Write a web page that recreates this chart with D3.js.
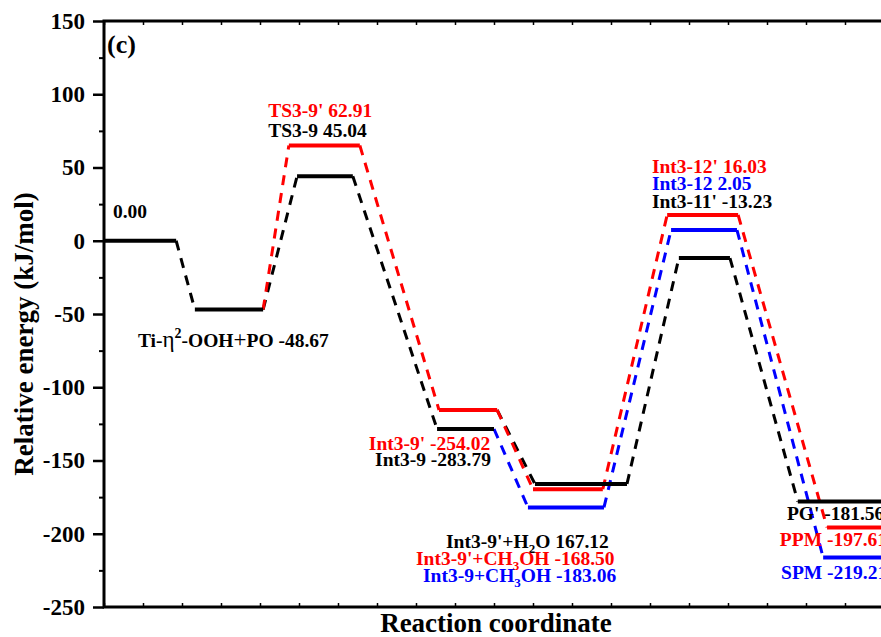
<!DOCTYPE html>
<html>
<head>
<meta charset="utf-8">
<script src="https://cdn.jsdelivr.net/npm/d3@7.9.0/dist/d3.min.js"></script>
<style>
  body { margin: 0; background: #fff; }
</style>
</head>
<body>
<svg id="chart" width="881" height="637"></svg>
<script>
// energy levels (reaction coordinate units for x, kJ/mol for y as drawn)
const levelIds = ['R', 'Ti', 'TS3-9p', 'TS3-9', 'Int3-9p', 'Int3-9', 'H2O', 'MeOHp', 'MeOH', 'Int3-12p', 'Int3-12', 'Int3-11p', 'PGp', 'PPM', 'SPM'];
const levelSeries = ['k', 'k', 'r', 'k', 'r', 'k', 'k', 'r', 'b', 'r', 'b', 'k', 'k', 'r', 'b'];
const levelEnergy = [0, -47, 65, 44, -115.5, -128.5, -166, -169.6, -182, 17.6, 7.3, -11.8, -178, -195.7, -216.2];
const levelStart = [0, 2.33, 4.74, 4.95, 8.59, 8.54, 11.05, 11.0, 10.87, 14.44, 14.54, 14.74, 17.79, 18.54, 18.44];
const levelEnd = [1.85, 4.08, 6.56, 6.38, 10.08, 10.0, 13.41, 12.79, 12.82, 16.26, 16.23, 16.05, 21, 21, 21];

// dashed connectors: [from, to, series]
const links = [
  ['R', 'Ti', 'k'], ['Ti', 'TS3-9', 'k'], ['TS3-9', 'Int3-9', 'k'], ['Int3-9p', 'H2O', 'k'],
  ['H2O', 'Int3-11p', 'k'], ['Int3-11p', 'PGp', 'k'],
  ['Ti', 'TS3-9p', 'r'], ['TS3-9p', 'Int3-9p', 'r'], ['Int3-9p', 'MeOHp', 'r'],
  ['MeOHp', 'Int3-12p', 'r'], ['Int3-12p', 'PPM', 'r'],
  ['Int3-9', 'MeOH', 'b'], ['MeOH', 'Int3-12', 'b'], ['Int3-12', 'SPM', 'b']
];

// labels: parts as [text, kind] where kind '' normal, 'sub', 'sup', 'plain'
const labelParts = [
  [['0.00', '']],
  [['Ti-', ''], ['η', 'plain'], ['2', 'sup'], ['-OOH', ''], ['+', 'plain'], ['PO -48.67', '']],
  [["TS3-9' 62.91", '']],
  [['TS3-9 45.04', '']],
  [["Int3-9' -254.02", '']],
  [['Int3-9 -283.79', '']],
  [["Int3-9'+H", ''], ['2', 'sub'], ['O 167.12', '']],
  [["Int3-9'+CH", ''], ['3', 'sub'], ['OH -168.50', '']],
  [['Int3-9+CH', ''], ['3', 'sub'], ['OH -183.06', '']],
  [["Int3-12' 16.03", '']],
  [['Int3-12 2.05', '']],
  [["Int3-11' -13.23", '']],
  [["PG' -181.56", '']],
  [['PPM -197.61', '']],
  [['SPM -219.21', '']]
];
const labelSeries = ['k', 'k', 'r', 'k', 'r', 'k', 'k', 'r', 'b', 'r', 'b', 'k', 'k', 'r', 'b'];
const labelX = [0.23, 0.87, 4.21, 4.21, 6.79, 6.95, 8.77, 8.0, 8.18, 14.05, 14.05, 14.05, 17.51, 17.33, 17.36];
const labelY = [15.5, -72.5, 84.5, 70.8, -142.8, -153.8, -209.7, -221.4, -233, 46.2, 34.6, 22.4, -190.6, -208.4, -230.9];

const yTicks = [150, 100, 50, 0, -50, -100, -150, -200, -250];
const colorOf = { k: '#000000', r: '#ff0000', b: '#0000ff' };
const serif = '"Liberation Serif"';

const svg = d3.select('#chart');
const x = d3.scaleLinear().domain([0, 20.5]).range([104, 903.5]);
const y = d3.scaleLinear().domain([-250, 150]).range([607, 21]);

const levels = levelIds.map((id, i) => ({
  id, s: levelSeries[i], e: levelEnergy[i], x0: levelStart[i], x1: levelEnd[i]
}));
const byId = new Map(levels.map((d) => [d.id, d]));

// axes
const yAxis = d3.axisLeft(y).tickValues(yTicks).tickSize(11).tickPadding(8)
  .tickFormat((d) => String(d));
const gy = svg.append('g').attr('transform', 'translate(104,0)').call(yAxis);
gy.attr('font-family', null).attr('font-size', null);
gy.selectAll('text')
  .attr('fill', '#000')
  .style('font-family', serif)
  .style('font-weight', 'bold')
  .style('font-size', '23px');
gy.selectAll('line').attr('stroke-width', 2.5);
gy.select('.domain').remove();

const gyMinor = svg.append('g').attr('transform', 'translate(104,0)')
  .call(d3.axisLeft(y).tickValues(d3.range(-225, 150, 50)).tickSize(5).tickFormat(''));
gyMinor.select('.domain').remove();
gyMinor.selectAll('line').attr('stroke-width', 2);

const xt = d3.range(0, 21, 1);
svg.append('g').attr('transform', 'translate(0,607)')
  .call(d3.axisTop(x).tickValues(xt).tickSize(4).tickFormat(''))
  .call((g) => g.select('.domain').remove())
  .selectAll('line').attr('stroke-width', 1.5);
svg.append('g').attr('transform', 'translate(0,21)')
  .call(d3.axisBottom(x).tickValues(xt).tickSize(4).tickFormat(''))
  .call((g) => g.select('.domain').remove())
  .selectAll('line').attr('stroke-width', 1.5);

// frame
svg.append('rect')
  .attr('x', x(0)).attr('y', y(150))
  .attr('width', x(20.5) - x(0)).attr('height', y(-250) - y(150))
  .attr('fill', 'none').attr('stroke', '#000').attr('stroke-width', 3);

// connectors
svg.append('g').selectAll('line').data(links).join('line')
  .attr('x1', (d) => x(byId.get(d[0]).x1))
  .attr('y1', (d) => y(byId.get(d[0]).e))
  .attr('x2', (d) => x(byId.get(d[1]).x0))
  .attr('y2', (d) => y(byId.get(d[1]).e))
  .attr('stroke', (d) => colorOf[d[2]])
  .attr('stroke-width', 3)
  .attr('stroke-dasharray', '10,8');

// levels
svg.append('g').selectAll('line').data(levels).join('line')
  .attr('x1', (d) => x(d.x0))
  .attr('x2', (d) => x(Math.min(d.x1, 20.5)))
  .attr('y1', (d) => y(d.e))
  .attr('y2', (d) => y(d.e))
  .attr('stroke', (d) => colorOf[d.s])
  .attr('stroke-width', 4);

// labels
const lab = svg.append('g').selectAll('text').data(labelParts).join('text')
  .attr('x', (d, i) => x(labelX[i]))
  .attr('y', (d, i) => y(labelY[i]))
  .attr('fill', (d, i) => colorOf[labelSeries[i]])
  .style('font-family', serif)
  .style('font-weight', 'bold')
  .style('font-size', '19.5px');

lab.each(function (parts) {
  const t = d3.select(this);
  let back = 0; // shift needed to return to baseline
  parts.forEach(([txt, kind]) => {
    const sp = t.append('tspan').text(txt);
    if (kind === 'sub') {
      sp.attr('dy', 5 + back).style('font-size', '13px');
      back = -5;
    } else if (kind === 'sup') {
      sp.attr('dy', -9 + back).style('font-size', '14px');
      back = 9;
    } else {
      if (back) sp.attr('dy', back);
      back = 0;
      if (kind === 'plain') sp.style('font-weight', 'normal').style('font-size', '23px');
    }
  });
});

// titles
svg.append('text').attr('x', 107).attr('y', 53)
  .style('font-family', serif).style('font-weight', 'bold').style('font-size', '26px')
  .text('(c)');

svg.append('text')
  .attr('transform', 'translate(33,334) rotate(-90)')
  .attr('text-anchor', 'middle')
  .style('font-family', serif).style('font-weight', 'bold').style('font-size', '27px')
  .text('Relative energy (kJ/mol)');

svg.append('text')
  .attr('x', 496).attr('y', 632)
  .attr('text-anchor', 'middle')
  .style('font-family', serif).style('font-weight', 'bold').style('font-size', '27px')
  .text('Reaction coordinate');
</script>
</body>
</html>
